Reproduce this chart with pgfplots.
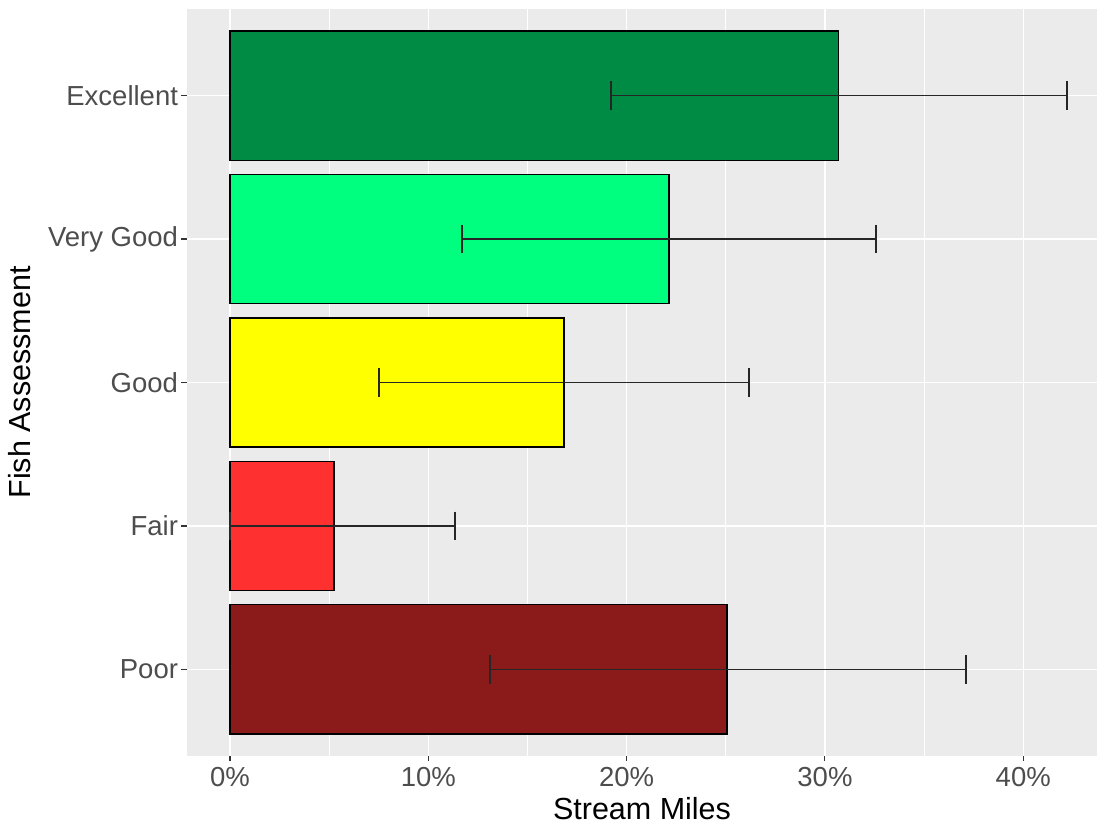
\documentclass[border=0pt]{standalone}
\usepackage{pgfplots}
\pgfplotsset{compat=1.18}
\usepackage{fontspec}
\setmainfont{Liberation Sans}
\definecolor{bgc}{HTML}{EBEBEB}
\definecolor{labc}{HTML}{4D4D4D}
\definecolor{tickc}{HTML}{333333}
\definecolor{exc}{HTML}{008B45}
\definecolor{vgood}{HTML}{00FF7F}
\definecolor{good}{HTML}{FFFF00}
\definecolor{fair}{HTML}{FF3030}
\definecolor{poor}{HTML}{8B1A1A}
\pgfplotsset{
  mybar/.style={xbar, bar width=0.9, bar shift=0pt, draw=black, line width=1.2pt,
    error bars/x dir=both, error bars/x explicit,
    error bars/error mark=|,
    error bars/error bar style={black!85, line width=1.7pt},
    error bars/error mark options={black!85, line width=1.7pt, mark size=14.4pt}}
}
\begin{document}
\begin{tikzpicture}
\begin{axis}[
  at={(187pt,71.5pt)}, anchor=south west,
  scale only axis, width=910pt, height=746pt,
  xmin=-2.17, xmax=43.72, ymin=0.4, ymax=5.6,
  axis background/.style={fill=bgc},
  axis line style={draw=none},
  xtick={0,10,20,30,40}, xticklabels={0\%,10\%,20\%,30\%,40\%},
  minor xtick={5,15,25,35},
  ytick={1,2,3,4,5}, yticklabels={Poor,Fair,Good,Very Good,Excellent},
  xmajorgrids, xminorgrids, ymajorgrids,
  major grid style={white, line width=1.4pt},
  minor grid style={white, line width=0.8pt},
  tick align=outside, major tick length=5.5pt, minor tick length=0pt,
  major tick style={color=tickc, line width=1.1pt},
  xtick pos=bottom, ytick pos=left,
  ticklabel style={font=\fontsize{27.5}{32}\selectfont, text=labc},
  xticklabel style={yshift=-3pt},
  xlabel={Stream Miles}, ylabel={Fish Assessment},
  label style={font=\fontsize{30.5}{36}\selectfont, text=black},
  xlabel style={inner sep=0pt, yshift=-7pt},
  ylabel style={yshift=10pt},
]
\addplot[mybar, fill=exc] table[x=v, y=p, x error plus=ep, x error minus=em, row sep=\\] {v p ep em \\ 30.67 5 11.53 11.47 \\};
\addplot[mybar, fill=vgood] table[x=v, y=p, x error plus=ep, x error minus=em, row sep=\\] {v p ep em \\ 22.14 4 10.44 10.44 \\};
\addplot[mybar, fill=good] table[x=v, y=p, x error plus=ep, x error minus=em, row sep=\\] {v p ep em \\ 16.84 3 9.33 9.33 \\};
\addplot[mybar, fill=fair] table[x=v, y=p, x error plus=ep, x error minus=em, row sep=\\] {v p ep em \\ 5.24 2 6.11 5.24 \\};
\addplot[mybar, fill=poor] table[x=v, y=p, x error plus=ep, x error minus=em, row sep=\\] {v p ep em \\ 25.06 1 12.06 11.95 \\};
\end{axis}
\pgfresetboundingbox
\path (0pt,0pt) rectangle (1097pt,827pt);
\end{tikzpicture}
\end{document}
